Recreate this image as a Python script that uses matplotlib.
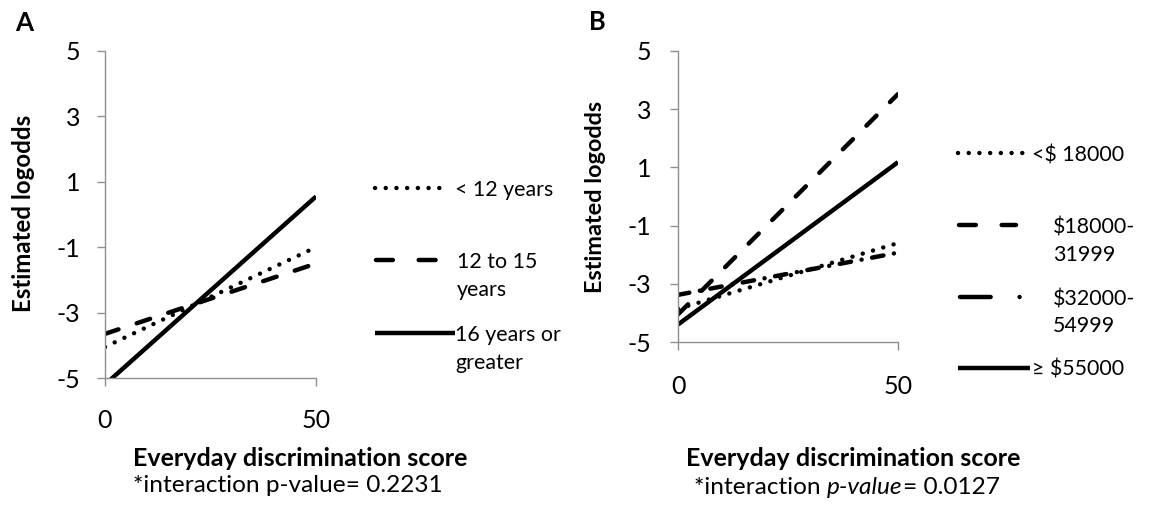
import matplotlib
matplotlib.use("Agg")
import matplotlib.pyplot as plt
from matplotlib.lines import Line2D

# ---------------- data ----------------
x_score = [0, 50]
yticks = [-5, -3, -1, 1, 3, 5]
xticks = [0, 50]

labels_A = ["< 12 years", "12 to 15\nyears", "16 years or\ngreater"]
lt12 = [-4.05, -1.0]
y12to15 = [-3.65, -1.5]
y16plus = [-5.2, 0.55]

labels_B = ["<$ 18000", "$18000-\n31999", "$32000-\n54999", "\u2265 $55000"]
inc_lt18 = [-3.86, -1.6]
inc_18_32 = [-4.05, 3.52]
inc_32_55 = [-3.38, -1.93]
inc_ge55 = [-4.4, 1.18]

xlabel = "Everyday discrimination score"
ylabel = "Estimated logodds"
pval_A = "*interaction p-value= 0.2231"
pval_B = ("*interaction ", "p-value", "= 0.0127")

# ---------------- style ----------------
W, H = 1152, 512
FONT = ["Lato", "DejaVu Sans"]
plt.rcParams["font.family"] = FONT
GRAY = "#8f8f8f"
LW = 3.2

def fx(x):
    return x / W

def fy(y):
    return 1 - y / H

fig = plt.figure(figsize=(W / 100, H / 100), dpi=100)
fig.patch.set_facecolor("white")
renderer = fig.canvas.get_renderer()

styles_plot = {
    "dot": dict(linestyle=(0, (0.01, 2.4)), dash_capstyle="round"),
    "dash": dict(linestyle=(0, (3.2, 4.3)), dash_capstyle="round"),
    "dashdot": dict(linestyle=(0, (2.6, 2.4, 0.01, 2.4)), dash_capstyle="round"),
    "solid": dict(linestyle="-", solid_capstyle="butt"),
}
styles_leg = {
    "dot": dict(linestyle=(0, (0.01, 2.4)), dash_capstyle="round"),
    "dash": dict(linestyle=(0, (3.8, 5.8)), dash_capstyle="round"),
    "dashdot": dict(linestyle=(0, (6.9, 6.5, 0.01, 20)), dash_capstyle="round"),
    "solid": dict(linestyle="-", solid_capstyle="butt"),
}


def make_axes(l, t, r, b, xpad, ypad):
    ax = fig.add_axes([fx(l), fy(b), (r - l) / W, (b - t) / H])
    ax.set_xlim(0, 50)
    ax.set_ylim(-5, 5)
    for s in ("top", "right"):
        ax.spines[s].set_visible(False)
    for s in ("left", "bottom"):
        ax.spines[s].set_color(GRAY)
        ax.spines[s].set_linewidth(1.0)
    ax.set_xticks(xticks)
    ax.set_yticks(yticks)
    ax.set_yticklabels([str(v) for v in yticks])
    ax.tick_params(axis="both", colors=GRAY, length=6, width=1.0, labelsize=18,
                   labelcolor="black")
    ax.tick_params(axis="x", pad=xpad)
    ax.tick_params(axis="y", pad=ypad)
    ax.patch.set_alpha(0)
    return ax


def fit_text(x, y, s, width, rotation=0, **kw):
    t = fig.text(fx(x), fy(y), s, fontsize=10, rotation=rotation,
                 ha="center", va="center", **kw)
    bb = t.get_window_extent(renderer)
    length = bb.height if rotation else bb.width
    t.set_fontsize(10 * width / length)
    return t


def legend_entry(x0, x1, y, style, text, tx, size, spacing=28):
    fig.add_artist(Line2D([fx(x0), fx(x1)], [fy(y), fy(y)], transform=fig.transFigure,
                          color="black", lw=LW, **styles_leg[style]))
    for i, line in enumerate(text.split("\n")):
        fig.text(fx(tx), fy(y + i * spacing), line, fontsize=size, ha="left",
                 va="center_baseline", color="black")


# ---------------- panel A ----------------
axA = make_axes(105, 51, 316, 378, xpad=16, ypad=12)
axA.plot(x_score, lt12, color="black", lw=LW, **styles_plot["dot"])
axA.plot(x_score, y12to15, color="black", lw=LW, **styles_plot["dash"])
axA.plot(x_score, y16plus, color="black", lw=LW, **styles_plot["solid"])

# ---------------- panel B ----------------
axB = make_axes(678, 51, 898, 342, xpad=18, ypad=13)
axB.plot(x_score, inc_lt18, color="black", lw=LW, **styles_plot["dot"])
axB.plot(x_score, inc_18_32, color="black", lw=LW, **styles_plot["dash"])
axB.plot(x_score, inc_32_55, color="black", lw=LW, **styles_plot["dashdot"])
axB.plot(x_score, inc_ge55, color="black", lw=LW, **styles_plot["solid"])

# legend font size fitted to "< 12 years" width
probe = fig.text(0, 0, labels_A[0], fontsize=10)
leg_size = 10 * 98 / probe.get_window_extent(renderer).width
probe.remove()

legend_entry(375, 447, 188, "dot", labels_A[0], 455, leg_size)
legend_entry(376, 436, 260, "dash", labels_A[1], 457, leg_size)
legend_entry(375, 455, 333, "solid", labels_A[2], 455, leg_size)

legend_entry(958, 1028, 153, "dot", labels_B[0], 1032, leg_size)
legend_entry(959, 1016, 225, "dash", labels_B[1], 1053, leg_size, spacing=28)
legend_entry(960, 1024, 297, "dashdot", labels_B[2], 1053, leg_size, spacing=27)
legend_entry(958, 1030, 368, "solid", labels_B[3], 1032, leg_size)

# ---------------- texts ----------------
fit_text(24, 23, "A", 18, fontweight="bold")
fit_text(597, 22, "B", 17, fontweight="bold")
fit_text(24, 213, ylabel, 197, rotation=90, fontweight="bold")
fit_text(596, 197, ylabel, 193, rotation=90, fontweight="bold")
fit_text(300, 459, xlabel, 335, fontweight="bold")
fit_text(853, 459, xlabel, 335, fontweight="bold")
pA = fit_text(288, 486, pval_A, 310)
psize = pA.get_fontsize()

# panel B p-value with italic part, laid out piecewise
parts = []
xcur = 0
for i, s in enumerate(pval_B):
    t = fig.text(0, fy(488), s, fontsize=psize, ha="left", va="center",
                 style="italic" if i == 1 else "normal")
    w = t.get_window_extent(renderer).width
    parts.append((t, xcur))
    xcur += w
total = xcur
start = 847 - total / 2
for t, off in parts:
    t.set_x(fx(start + off))

fig.savefig("out.png", dpi=100, facecolor="white")
